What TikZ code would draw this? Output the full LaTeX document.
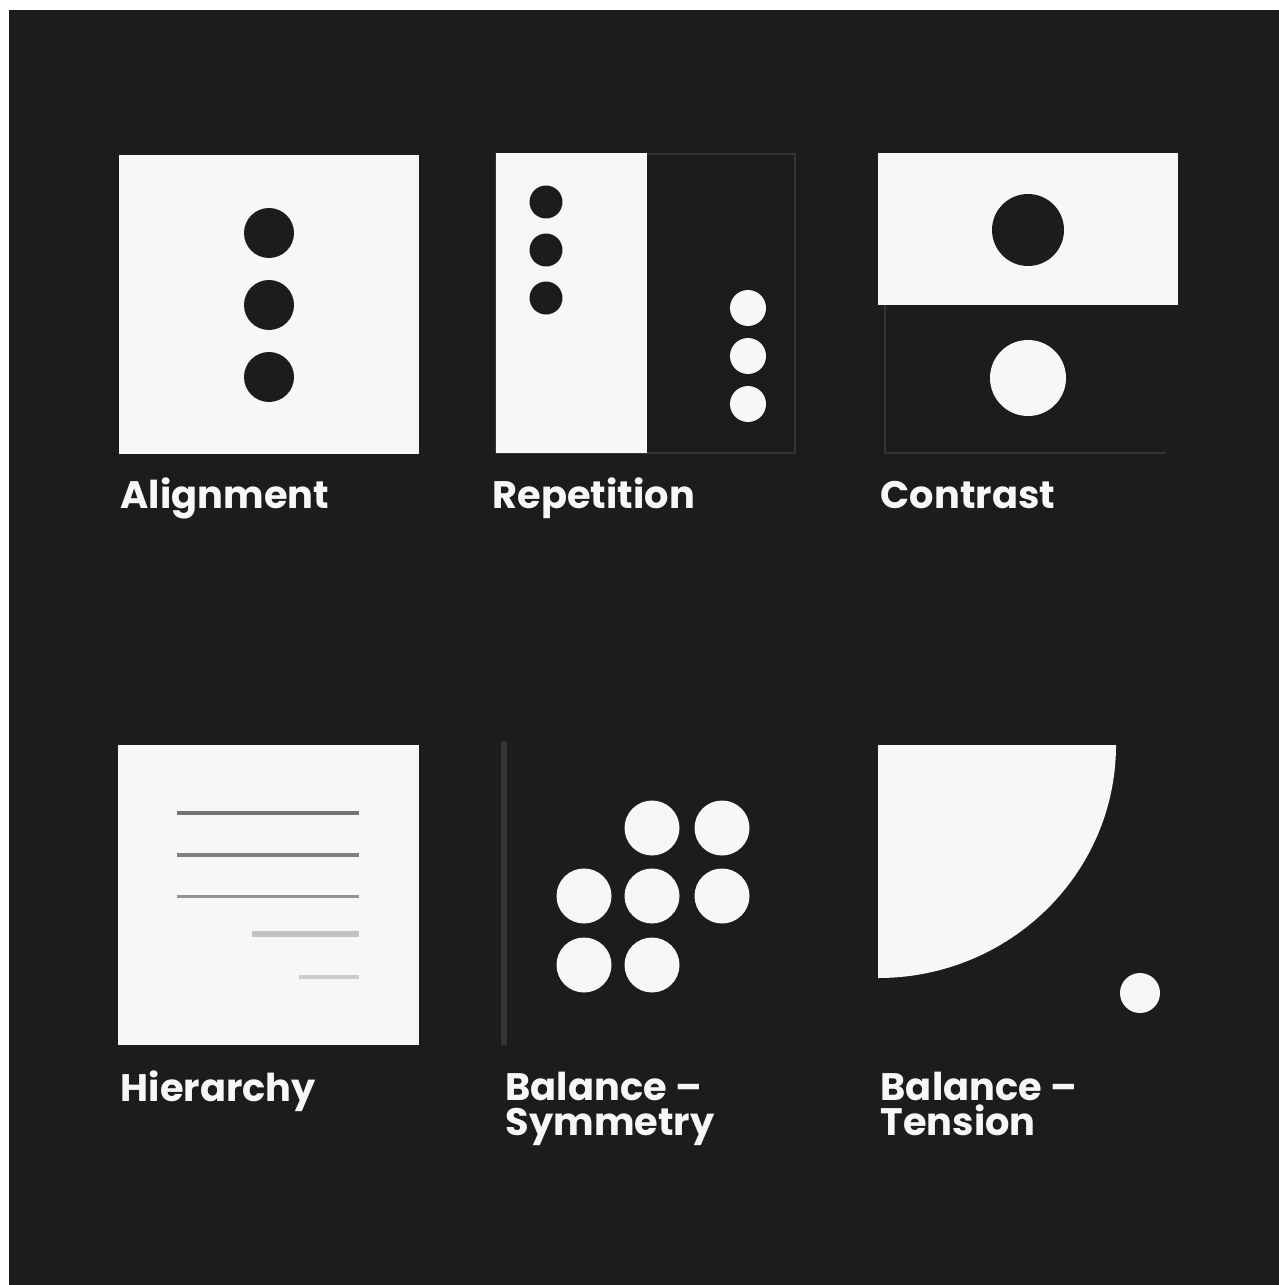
\documentclass[tikz,border=0pt]{standalone}
\usepackage{fontspec}
\setmainfont{Poppins}
\definecolor{bgdark}{HTML}{1C1C1C}
\definecolor{paper}{HTML}{F7F7F7}
\definecolor{rimgray}{HTML}{343434}
\begin{document}
\begin{tikzpicture}[x=0.01cm, y=-0.01cm,
        label/.style={anchor=base west, inner sep=0pt, text=paper,
            font=\fontsize{10.9}{9.7}\selectfont\bfseries, align=left},
        rim/.style={draw=rimgray, line width=0.6pt}]
    \useasboundingbox (0,0) rectangle (1279,1285);
    \fill[white] (0,0) rectangle (1279,1285);
    \fill[bgdark] (9,10) rectangle (1279,1285);
    % alignment
    \fill[paper] (119,155) rectangle (419,454);
    \foreach \cy in {233,305,377}
        \fill[bgdark] (269,\cy) circle (25);
    \node[label] (alignment) at (120,508) {Alignment};
    % repetition
    \draw[rim] (496,154) rectangle (795,453);
    \fill[paper] (496,153) rectangle (647,453);
    \foreach \cy in {202,250,298}{
        \fill[bgdark] (546,\cy) circle (16.5);
        \fill[paper] (748,\cy+106) circle (18);
    }
    \node[label] (repetition) at (492,508) {Repetition};
    % contrast
    \draw[rim] (885,305) -- (885,453) -- (1166,453);
    \fill[paper] (878,153) rectangle (1178,305);
    \fill[bgdark] (1028,230) circle (36);
    \fill[paper] (1028,378) circle (38);
    \node[label] (contrast) at (880,508) {Contrast};
    % hierarchy
    \fill[paper] (118,745) rectangle (419,1045);
    \foreach \ly/\lx/\shade/\lw in {813/177/55/4, 855/177/50/3.5, 896/177/42/3, 934/252/24/6, 977/299/20/4}
        \draw[black!\shade, line width=\lw*0.2845pt] (\lx,\ly) -- (359,\ly);
    \node[label] (hierarchy) at (120,1101) {Hierarchy};
    % balance - symmetry
    \draw[rimgray, line width=1.6pt] (504,742) -- (504,1045);
    \foreach \cx/\cy in {652/828, 722/828, 584/896, 652/896, 722/896, 584/965, 652/965}
        \fill[paper] (\cx,\cy) circle (27.5);
    \node[label] (symmetry) at (505,1135) {Balance –\\Symmetry};
    % balance - tension
    \fill[paper] (878,745) -- (1116,745) arc[start angle=0, end angle=-90, x radius=238, y radius=-233] -- cycle;
    \fill[paper] (1140,993) circle (20);
    \node[label] (tension) at (880,1135) {Balance –\\Tension};
\end{tikzpicture}
\end{document}
